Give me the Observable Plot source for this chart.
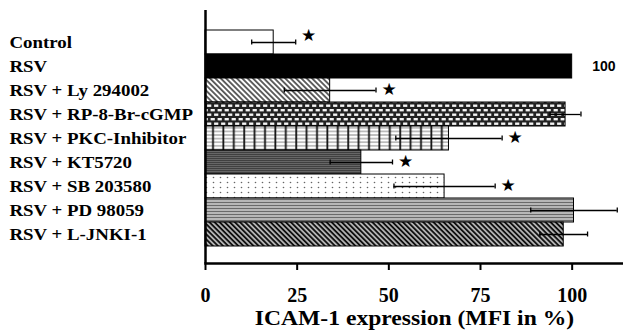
<!DOCTYPE html>
<html>
<head>
<meta charset="utf-8">
<script src="https://cdn.jsdelivr.net/npm/d3@7"></script>
<script src="https://cdn.jsdelivr.net/npm/@observablehq/plot@0.6"></script>
<style>
  html, body { margin: 0; padding: 0; background: #fff; }
  #chart svg { display: block; }
</style>
</head>
<body>
<div id="chart"></div>
<script>
// ---- data ----
const categories = [
  "Control", "RSV", "RSV + Ly 294002", "RSV + RP-8-Br-cGMP", "RSV + PKC-Inhibitor",
  "RSV + KT5720", "RSV + SB 203580", "RSV + PD 98059", "RSV + L-JNKI-1"
];
const values = [18.6, 100, 34.0, 98.2, 66.4, 42.5, 65.2, 100.5, 97.7];
const errors = [6.0, 0, 12.5, 4.2, 14.5, 8.5, 13.8, 11.8, 6.5];
const significant = [true, false, true, false, true, true, true, false, false];
const xTicks = [0, 25, 50, 75, 100];
const xLabel = "ICAM-1 expression (MFI in %)";

// ---- styles (fill patterns per category) ----
const patternIds = ["pWhite", "pBlack", "pDiagLight", "pWeave", "pGrid", "pDarkLines", "pDots", "pStripes", "pDiagDark"];

const rows = categories.map((c, i) => ({
  cat: c, value: values[i], err: errors[i], sig: significant[i],
  fill: `url(#${patternIds[i]})`
}));
const withErr = rows.filter(d => d.err > 0);
const starsTop = rows.filter(d => d.sig && d.cat === "Control");
const starsRest = rows.filter(d => d.sig && d.cat !== "Control");

const serif = "Liberation Serif";
const starStyle = {y: "cat", x: d => d.value + d.err, text: () => "★", dx: 13, fontSize: 17, fontFamily: "DejaVu Sans", fill: "black"};

const plot = Plot.plot({
  width: 623,
  height: 335,
  marginLeft: 205,
  marginRight: 0,
  marginTop: 10,
  marginBottom: 72,
  x: {domain: [0, 114], axis: null},
  y: {domain: categories, range: [27, 249], padding: 0, axis: null},
  color: {type: "identity"},
  marks: [
    Plot.barX(rows, {y: "cat", x: "value", fill: "fill", stroke: "black", strokeWidth: 1}),
    Plot.ruleY(withErr, {y: "cat", x1: d => d.value - d.err, x2: d => d.value + d.err, stroke: "black", strokeWidth: 1.3}),
    Plot.tickX(withErr, {y: "cat", x: d => d.value + d.err, insetTop: 9.5, insetBottom: 9.5, stroke: "black", strokeWidth: 1.3}),
    Plot.tickX(withErr, {y: "cat", x: d => d.value - d.err, insetTop: 9.5, insetBottom: 9.5, stroke: "black", strokeWidth: 1.3}),
    Plot.text(starsTop, {...starStyle, dy: -7}),
    Plot.text(starsRest, {...starStyle, dy: -1}),
    Plot.text(rows.filter(d => d.cat === "RSV"), {y: "cat", x: "value", text: d => String(d.value), dx: 20, textAnchor: "start", fontFamily: "Liberation Sans", fontWeight: "bold", fontSize: 14, fill: "black"}),
    Plot.text(categories, {y: d => d, frameAnchor: "left", textAnchor: "start", dx: -196, fontFamily: serif, fontWeight: "bold", fontSize: 17, fill: "black", ariaDescription: "cat-labels"}),
    Plot.ruleX([0], {stroke: "black", strokeWidth: 2.5}),
    Plot.frame({anchor: "bottom", stroke: "black", strokeWidth: 2.5}),
    Plot.axisX({ticks: xTicks, tickSize: 7, tickPadding: 17, strokeWidth: 2, label: null,
      fontFamily: serif, fontWeight: "bold", fontSize: 20, fill: "black"}),
    Plot.text([xLabel], {frameAnchor: "bottom", dy: 55, lineAnchor: "middle", fontFamily: serif, fontWeight: "bold", fontSize: 20, fill: "black", ariaDescription: "x-title"})
  ]
});

const svgEl = plot.tagName.toLowerCase() === "svg" ? plot : plot.querySelector("svg");

// widen serif text horizontally (the reference type is stretched)
function stretch(selector, s) {
  svgEl.querySelectorAll(selector).forEach(t => {
    const tr = t.getAttribute("transform");
    if (tr) t.setAttribute("transform", tr + ` scale(${s},1)`);
    else {
      const x = +t.getAttribute("x") || 0, y = +t.getAttribute("y") || 0;
      t.setAttribute("transform", `translate(${x},${y}) scale(${s},1) translate(${-x},${-y})`);
    }
  });
}
stretch('g[aria-description="cat-labels"] text', 1.11);
stretch('g[aria-description="x-title"] text', 1.18);

// ---- pattern definitions ----
const svg = d3.select(svgEl);
const defs = svg.insert("defs", ":first-child");
function pat(id, w, h, transform) {
  const p = defs.append("pattern").attr("id", id).attr("patternUnits", "userSpaceOnUse")
    .attr("width", w).attr("height", h);
  if (transform) p.attr("patternTransform", transform);
  return p;
}
let p;
p = pat("pWhite", 4, 4); p.append("rect").attr("width", 4).attr("height", 4).attr("fill", "#fff");
p = pat("pBlack", 4, 4); p.append("rect").attr("width", 4).attr("height", 4).attr("fill", "#000");
// light diagonal "\" lines
p = pat("pDiagLight", 3.8, 3.8, "rotate(45)");
p.append("rect").attr("width", 3.8).attr("height", 3.8).attr("fill", "#fff");
p.append("line").attr("x1", 0).attr("x2", 3.8).attr("y1", 1.9).attr("y2", 1.9).attr("stroke", "#111").attr("stroke-width", 1.3);
// dark diagonal "\" lines
p = pat("pDiagDark", 3.6, 3.6, "rotate(45)");
p.append("rect").attr("width", 3.6).attr("height", 3.6).attr("fill", "#eee");
p.append("line").attr("x1", 0).attr("x2", 3.6).attr("y1", 1.8).attr("y2", 1.8).attr("stroke", "#111").attr("stroke-width", 2.3);
// weave / brick
p = pat("pWeave", 7, 9);
p.append("rect").attr("width", 7).attr("height", 9).attr("fill", "#222");
p.append("rect").attr("x", 0.6).attr("y", 1).attr("width", 4.2).attr("height", 2.4).attr("fill", "#f4f4f4");
p.append("rect").attr("x", 4.1).attr("y", 5.5).attr("width", 4.2).attr("height", 2.4).attr("fill", "#f4f4f4");
p.append("rect").attr("x", -2.9).attr("y", 5.5).attr("width", 4.2).attr("height", 2.4).attr("fill", "#f4f4f4");
// grid: gray horizontal + black vertical
p = pat("pGrid", 10.4, 3.6);
p.append("rect").attr("width", 10.4).attr("height", 3.6).attr("fill", "#fff");
p.append("line").attr("x1", 0).attr("x2", 10.4).attr("y1", 1.8).attr("y2", 1.8).attr("stroke", "#9a9a9a").attr("stroke-width", 1.2);
p.append("line").attr("x1", 5).attr("x2", 5).attr("y1", 0).attr("y2", 3.6).attr("stroke", "#111").attr("stroke-width", 1.8);
// dark gray fine lines
p = pat("pDarkLines", 4, 2);
p.append("rect").attr("width", 4).attr("height", 2).attr("fill", "#666");
p.append("line").attr("x1", 0).attr("x2", 4).attr("y1", 0.5).attr("y2", 0.5).attr("stroke", "#404040").attr("stroke-width", 1);
// dots
p = pat("pDots", 7, 5);
p.append("rect").attr("width", 7).attr("height", 5).attr("fill", "#fff");
p.append("circle").attr("cx", 3.5).attr("cy", 2.5).attr("r", 0.8).attr("fill", "#666");
// gray horizontal stripes
p = pat("pStripes", 4, 3);
p.append("rect").attr("width", 4).attr("height", 3).attr("fill", "#d0d0d0");
p.append("line").attr("x1", 0).attr("x2", 4).attr("y1", 1.5).attr("y2", 1.5).attr("stroke", "#6a6a6a").attr("stroke-width", 1.5);

document.getElementById("chart").appendChild(plot);
</script>
</body>
</html>
